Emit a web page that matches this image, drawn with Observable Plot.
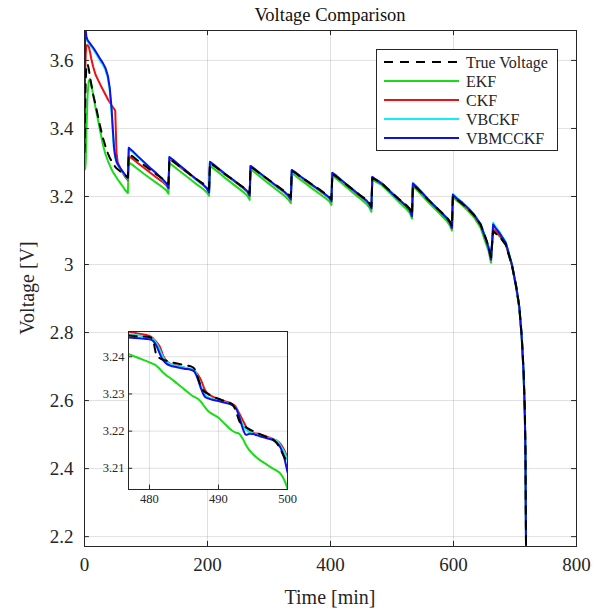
<!DOCTYPE html>
<html><head><meta charset="utf-8">
<script src="https://cdn.jsdelivr.net/npm/d3@7"></script>
<script src="https://cdn.jsdelivr.net/npm/@observablehq/plot@0.6"></script>
<style>body{margin:0;background:#fff} #chart{position:relative;width:605px;height:612px}</style>
</head><body><div id="chart"></div>
<script>
// ---------- data ----------
const seriesNames = ["True Voltage", "EKF", "CKF", "VBCKF", "VBMCCKF"];
const seriesColors = ["#000000", "#16dd16", "#ee1111", "#11f0f0", "#1010e6"];

const time = [0,1,2,3,5,7,9,11,14,18,22,26,30,34,38,41,44,46,48,50,52,54,58,62,66,70.5,
  72,78,87,97,107,117,127,133,136.5,
  138,144,153,163,173,183,193,199,202.5,
  204,210,219,229,239,249,259,265,268.5,
  270,276,285,295,305,315,325,331,335.5,
  337,343,352,362,372,382,392,398,401.5,
  403,409,418,428,438,448,458,463,466.5,
  468,474,483,493,503,513,523,529,532.5,
  534,540,549,559,569,579,589,594,597.5,
  599,605,614,624,634,644,652,657,661,
  664.5,668,675,685,695,702,707,711,714,716,717,718];

const trueVoltage = [3.33,3.45,3.54,3.58,3.59,3.575,3.55,3.53,3.50,3.47,3.435,3.402,3.372,3.348,3.327,3.314,3.304,3.298,3.293,3.287,3.283,3.28,3.274,3.268,3.262,3.255,
  3.325,3.318,3.305,3.292,3.278,3.265,3.252,3.244,3.237,
  3.310,3.303,3.291,3.277,3.263,3.250,3.238,3.229,3.222,
  3.298,3.291,3.279,3.265,3.252,3.239,3.226,3.218,3.210,
  3.287,3.280,3.268,3.255,3.242,3.229,3.216,3.208,3.199,
  3.275,3.269,3.257,3.245,3.233,3.221,3.208,3.200,3.192,
  3.266,3.259,3.246,3.232,3.218,3.204,3.191,3.181,3.171,
  3.254,3.249,3.240,3.223,3.206,3.190,3.175,3.164,3.147,
  3.234,3.225,3.209,3.190,3.173,3.156,3.139,3.127,3.113,
  3.200,3.191,3.179,3.163,3.144,3.118,3.080,3.054,3.022,
  3.098,3.092,3.082,3.058,2.998,2.935,2.877,2.790,2.690,2.575,2.460,2.150];

const ekf = [3.34,3.28,3.30,3.38,3.50,3.54,3.545,3.53,3.50,3.46,3.425,3.388,3.352,3.325,3.305,3.292,3.28,3.273,3.267,3.262,3.256,3.25,3.24,3.23,3.219,3.21,
  3.300,3.293,3.280,3.266,3.253,3.240,3.227,3.218,3.208,
  3.298,3.290,3.277,3.263,3.249,3.235,3.222,3.212,3.202,
  3.290,3.282,3.269,3.254,3.240,3.226,3.212,3.202,3.190,
  3.280,3.272,3.259,3.244,3.230,3.216,3.202,3.192,3.180,
  3.268,3.261,3.248,3.235,3.221,3.208,3.195,3.186,3.175,
  3.262,3.253,3.240,3.224,3.209,3.194,3.179,3.168,3.155,
  3.250,3.243,3.234,3.217,3.199,3.181,3.164,3.152,3.135,
  3.230,3.220,3.203,3.183,3.165,3.147,3.128,3.115,3.100,
  3.198,3.188,3.175,3.157,3.137,3.108,3.066,3.040,3.005,
  3.105,3.097,3.083,3.058,2.996,2.930,2.870,2.780,2.675,2.555,2.435,2.150];

const ckf = [3.35,3.56,3.62,3.645,3.645,3.64,3.625,3.605,3.582,3.558,3.543,3.528,3.514,3.50,3.486,3.477,3.468,3.463,3.458,3.452,3.33,3.30,3.283,3.27,3.258,3.248,
  3.318,3.311,3.298,3.284,3.270,3.256,3.243,3.233,3.222,
  3.310,3.303,3.290,3.276,3.262,3.248,3.234,3.223,3.211,
  3.299,3.291,3.278,3.264,3.251,3.237,3.223,3.213,3.201,
  3.288,3.280,3.267,3.253,3.239,3.225,3.212,3.202,3.190,
  3.276,3.269,3.256,3.243,3.230,3.217,3.204,3.195,3.185,
  3.268,3.260,3.246,3.231,3.216,3.201,3.187,3.176,3.164,
  3.257,3.250,3.240,3.223,3.206,3.189,3.173,3.161,3.143,
  3.237,3.227,3.210,3.190,3.172,3.154,3.136,3.123,3.107,
  3.203,3.193,3.180,3.163,3.143,3.116,3.077,3.049,3.014,
  3.103,3.098,3.086,3.060,2.999,2.934,2.875,2.786,2.682,2.560,2.440,2.150];

const vbckf = [3.345,3.69,3.68,3.665,3.655,3.65,3.645,3.64,3.633,3.622,3.61,3.598,3.587,3.572,3.548,3.512,3.45,3.39,3.338,3.313,3.30,3.292,3.281,3.271,3.261,3.252,
  3.340,3.331,3.316,3.299,3.282,3.266,3.249,3.237,3.223,
  3.315,3.307,3.293,3.278,3.263,3.248,3.234,3.223,3.211,
  3.301,3.293,3.280,3.265,3.252,3.238,3.224,3.214,3.202,
  3.289,3.281,3.268,3.254,3.240,3.226,3.213,3.203,3.191,
  3.277,3.270,3.257,3.244,3.231,3.218,3.205,3.196,3.186,
  3.269,3.261,3.247,3.232,3.217,3.202,3.188,3.177,3.165,
  3.258,3.250,3.239,3.222,3.205,3.189,3.173,3.161,3.143,
  3.240,3.230,3.212,3.192,3.174,3.156,3.138,3.125,3.109,
  3.207,3.197,3.184,3.167,3.147,3.120,3.080,3.052,3.017,
  3.123,3.112,3.095,3.066,3.002,2.937,2.877,2.787,2.682,2.562,2.442,2.150];

const vbmcckf = [3.345,3.70,3.69,3.67,3.66,3.655,3.65,3.645,3.638,3.627,3.615,3.603,3.592,3.578,3.555,3.52,3.46,3.40,3.345,3.318,3.303,3.295,3.284,3.274,3.264,3.255,
  3.343,3.334,3.318,3.301,3.284,3.268,3.251,3.239,3.225,
  3.316,3.308,3.294,3.279,3.264,3.249,3.235,3.224,3.212,
  3.302,3.294,3.281,3.266,3.253,3.239,3.225,3.215,3.203,
  3.290,3.282,3.269,3.255,3.241,3.227,3.214,3.204,3.192,
  3.278,3.271,3.258,3.245,3.232,3.219,3.206,3.197,3.187,
  3.270,3.262,3.248,3.233,3.218,3.203,3.189,3.178,3.166,
  3.257,3.249,3.238,3.221,3.204,3.188,3.172,3.160,3.142,
  3.238,3.228,3.211,3.191,3.173,3.155,3.137,3.124,3.108,
  3.205,3.195,3.182,3.165,3.145,3.118,3.078,3.050,3.015,
  3.118,3.108,3.092,3.064,3.000,2.935,2.875,2.785,2.680,2.560,2.440,2.150];

// inset (zoom 477–500 min)
const insetTime = [477,478.5,480,480.5,481,481.5,482,482.5,483,484,485,486,486.5,487,487.5,488,488.5,489,490,491,492,492.5,493,493.5,494,494.5,495,496,497,498,498.5,499,499.5,500];
const insetTrue = [3.2457,3.2455,3.2453,3.2445,3.2405,3.2396,3.2392,3.2389,3.2386,3.2382,3.2378,3.2374,3.2368,3.2345,3.2318,3.2306,3.2300,3.2295,3.2287,3.2280,3.2272,3.2255,3.2228,3.2216,3.2210,3.2205,3.2200,3.2192,3.2184,3.2176,3.2166,3.2150,3.2132,3.2115];
const insetEkf = [3.2407,3.2396,3.2385,3.2381,3.2376,3.2367,3.2357,3.2349,3.2343,3.2328,3.2313,3.2298,3.2292,3.2287,3.2278,3.2265,3.2254,3.2247,3.2236,3.2218,3.2201,3.2196,3.2193,3.2180,3.2162,3.2148,3.2138,3.2122,3.2110,3.2098,3.2093,3.2085,3.2070,3.2046];
const insetCkf = [3.2467,3.2462,3.2456,3.2450,3.2440,3.2427,3.2402,3.2388,3.2381,3.2376,3.2371,3.2366,3.2362,3.2352,3.2336,3.2312,3.2300,3.2294,3.2286,3.2280,3.2273,3.2266,3.2248,3.2230,3.2212,3.2200,3.2195,3.2192,3.2185,3.2178,3.2174,3.2165,3.2150,3.2128];
const insetVbckf = [3.2460,3.2457,3.2452,3.2448,3.2436,3.2418,3.2398,3.2386,3.2380,3.2375,3.2371,3.2367,3.2363,3.2346,3.2320,3.2300,3.2291,3.2287,3.2282,3.2277,3.2270,3.2264,3.2240,3.2218,3.2204,3.2197,3.2194,3.2188,3.2183,3.2177,3.2174,3.2160,3.2145,3.2122];
const insetVbmcckf = [3.2452,3.2450,3.2447,3.2443,3.2430,3.2408,3.2390,3.2381,3.2376,3.2372,3.2368,3.2365,3.2360,3.2340,3.2313,3.2293,3.2288,3.2285,3.2281,3.2276,3.2270,3.2262,3.2240,3.2208,3.2190,3.2193,3.2192,3.2186,3.2181,3.2175,3.2168,3.2155,3.2130,3.2090];

const xTicks = [0, 200, 400, 600, 800];
const yTicks = [2.2, 2.4, 2.6, 2.8, 3.0, 3.2, 3.4, 3.6];
const insetXTicks = [480, 490, 500];
const insetYTicks = [3.21, 3.22, 3.23, 3.24];

// ---------- build ----------
const FONT = "'Liberation Serif', 'DejaVu Serif', serif";
const INK = "#262626";
const fmt = d => String(+d.toFixed(2));
const rows = (t, v) => t.map((ti, i) => ({t: ti, v: v[i]}));

const mainSeries = [trueVoltage, ekf, ckf, vbckf, vbmcckf];
const insetSeries = [insetTrue, insetEkf, insetCkf, insetVbckf, insetVbmcckf];
const drawOrder = [1, 2, 3, 4, 0];

function lineMarks(tArr, seriesArr, curve) {
  return drawOrder.map(i => Plot.line(rows(tArr, seriesArr[i]), {
    x: "t", y: "v", stroke: seriesColors[i], strokeWidth: 2, clip: true, curve,
    strokeDasharray: i === 0 ? "8,7" : null
  }));
}

const xDom = [0, 800], yDom = [2.171, 3.688];
const main = Plot.plot({
  width: 605, height: 612,
  marginLeft: 84, marginRight: 29, marginTop: 30, marginBottom: 66,
  style: {fontFamily: FONT, fontSize: "19px", color: INK, background: "white", overflow: "visible"},
  x: {domain: xDom},
  y: {domain: yDom},
  marks: [
    Plot.gridX(xTicks, {stroke: "#000", strokeOpacity: 0.12}),
    Plot.gridY(yTicks, {stroke: "#000", strokeOpacity: 0.12}),
    Plot.axisX(xTicks, {tickSize: 0, tickPadding: 11, tickFormat: fmt, label: null}),
    Plot.axisY(yTicks, {tickSize: 0, tickPadding: 11, tickFormat: fmt, label: null}),
    ...lineMarks(time, mainSeries, "linear"),
    Plot.ruleX(xTicks, {x: d => d, y1: yDom[0], y2: yDom[0] + 0.015, stroke: INK}),
    Plot.ruleX(xTicks, {x: d => d, y1: yDom[1] - 0.015, y2: yDom[1], stroke: INK}),
    Plot.ruleY(yTicks, {y: d => d, x1: xDom[0], x2: xDom[0] + 8, stroke: INK}),
    Plot.ruleY(yTicks, {y: d => d, x1: xDom[1] - 8, x2: xDom[1], stroke: INK}),
    Plot.frame({stroke: INK})
  ]
});

const ixDom = [476.96, 500], iyDom = [3.2043, 3.2468];
const inset = Plot.plot({
  width: 205, height: 183,
  marginLeft: 40, marginRight: 6, marginTop: 2, marginBottom: 23,
  style: {fontFamily: FONT, fontSize: "12.5px", color: INK, overflow: "visible"},
  x: {domain: ixDom},
  y: {domain: iyDom},
  marks: [
    Plot.frame({fill: "white", stroke: null}),
    Plot.gridX(insetXTicks, {stroke: "#000", strokeOpacity: 0.12}),
    Plot.gridY(insetYTicks, {stroke: "#000", strokeOpacity: 0.12}),
    Plot.axisX(insetXTicks, {tickSize: 0, tickPadding: 5, tickFormat: fmt, label: null}),
    Plot.axisY(insetYTicks, {tickSize: 0, tickPadding: 4, tickFormat: fmt, label: null}),
    ...lineMarks(insetTime, insetSeries, "monotone-x"),
    Plot.ruleX(insetXTicks, {x: d => d, y1: iyDom[0], y2: iyDom[0] + 0.0012, stroke: INK}),
    Plot.ruleY(insetYTicks, {y: d => d, x1: ixDom[0], x2: ixDom[0] + 0.6, stroke: INK}),
    Plot.frame({stroke: INK})
  ]
});

const chart = document.getElementById("chart");
chart.appendChild(main);
inset.style.position = "absolute";
inset.style.left = "88.3px";
inset.style.top = "328.7px";
inset.style.background = "transparent";
chart.appendChild(inset);

const svg = d3.select(main);
svg.append("text").attr("x", 330).attr("y", 21).attr("text-anchor", "middle")
  .attr("font-size", 18.5).attr("fill", "#111").text("Voltage Comparison");
svg.append("text").attr("x", 330).attr("y", 604).attr("text-anchor", "middle")
  .attr("font-size", 20).attr("fill", INK).text("Time [min]");
svg.append("text").attr("transform", "translate(34,288) rotate(-90)").attr("text-anchor", "middle")
  .attr("font-size", 20).attr("fill", INK).text("Voltage [V]");

// legend
const lg = svg.append("g").attr("font-size", 16).attr("fill", INK).attr("text-anchor", "start");
lg.append("rect").attr("x", 376.5).attr("y", 49.5).attr("width", 181).attr("height", 101)
  .attr("fill", "white").attr("stroke", INK);
seriesNames.forEach((name, i) => {
  const y = 62 + 19 * i;
  lg.append("line").attr("x1", 384).attr("x2", 459).attr("y1", y).attr("y2", y)
    .attr("stroke", seriesColors[i]).attr("stroke-width", 2)
    .attr("stroke-dasharray", i === 0 ? "9,7" : null);
  lg.append("text").attr("x", 466).attr("y", y).attr("dy", "0.35em").attr("text-anchor", "start").text(name);
});
</script></body></html>
